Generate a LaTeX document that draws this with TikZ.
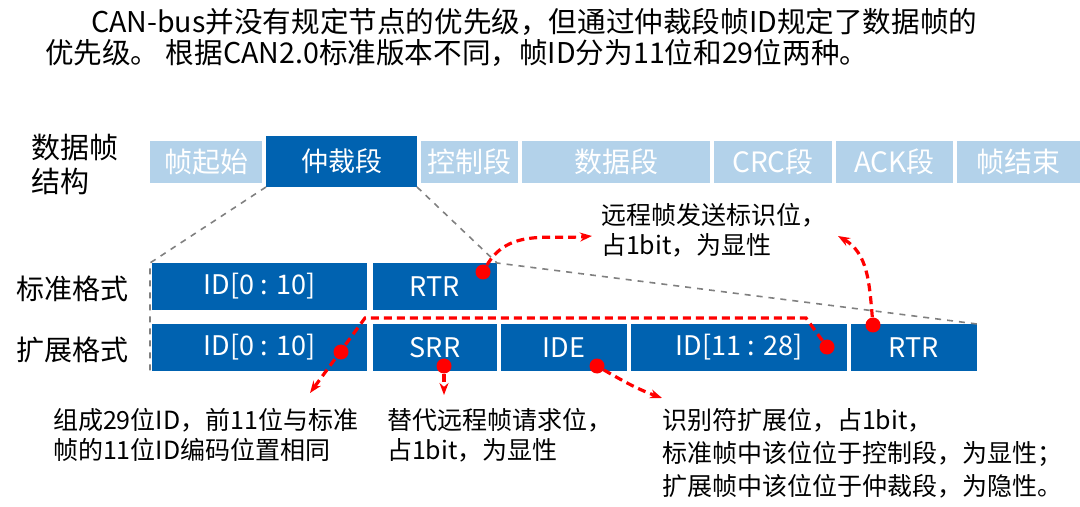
\documentclass[tikz,border=0pt]{standalone}
\usepackage{fontspec}
\setmainfont{Noto Sans CJK SC}
\usetikzlibrary{arrows.meta}
\definecolor{dblue}{HTML}{0062B0}
\definecolor{lblue}{HTML}{B3D2EA}
\begin{document}
\begin{tikzpicture}[x=0.5pt,y=-0.5pt,
  lb/.style={fill=lblue,draw=none,text=white,font=\fontsize{14}{16}\selectfont},
  db/.style={fill=dblue,draw=none,text=white,font=\fontsize{13.5}{16}\selectfont},
  lab/.style={font=\fontsize{14}{16}\selectfont,anchor=west},
  txt/.style={font=\fontsize{12.5}{15}\selectfont,anchor=west},
  gd/.style={gray,dashed,line width=0.8pt},
  rd/.style={red,line width=1.6pt,dash pattern=on 4pt off 2.5pt,-{Stealth[length=6pt]}},
  dot/.style={circle,fill=red,inner sep=0pt,minimum size=7.5pt}]
\useasboundingbox (0,0) rectangle (1080,507);
\node[txt,font=\fontsize{14.3}{16}\selectfont] (t1) at (84,22) {CAN-bus并没有规定节点的优先级，但通过仲裁段帧ID规定了数据帧的};
\node[txt,font=\fontsize{14.3}{16}\selectfont] (t2) at (38,53) {优先级。 根据CAN2.0标准版本不同，帧ID分为11位和29位两种。};
\node[lab,align=left,font=\fontsize{14.5}{17}\selectfont] (sj) at (24,164) {数据帧\\结构};
% top row
\path[lb] (150,141) rectangle node (f1) {帧起始} (262,183);
\path[db] (266,136) rectangle node (f2) {仲裁段} (417,187);
\path[lb] (421,141) rectangle node (f3) {控制段} (518,183);
\path[lb] (522,141) rectangle node (f4) {数据段} (710,183);
\path[lb] (714,141) rectangle node (f5) {CRC段} (832,183);
\path[lb] (836,141) rectangle node (f6) {ACK段} (953,183);
\path[lb] (957,141) rectangle node (f7) {帧结束} (1080,183);
% standard
\node[lab] (bz) at (9,289) {标准格式};
\path[db] (152,263) rectangle node (s1) {ID[0 : 10]} (367,310);
\path[db] (373,263) rectangle node (s2) {RTR} (497,310);
% extended
\node[lab] (kz) at (9,350) {扩展格式};
\path[db] (152,324) rectangle node (e1) {ID[0 : 10]} (367,371);
\path[db] (373,324) rectangle node (e2) {SRR} (497,371);
\path[db] (501,324) rectangle node (e3) {IDE} (627,371);
\path[db] (631,324) rectangle node (e4) {ID[11 : 28]} (847,371);
\path[db] (851,324) rectangle node (e5) {RTR} (977,371);
% grey dashed
\coordinate (g1) at (266,187); \coordinate (g2) at (417,187);
\coordinate (g3) at (150,263); \coordinate (g4) at (497,263);
\coordinate (g5) at (977,324); \coordinate (g6) at (150,371);
\draw[gd] (g1) -- (g3) -- (g6);
\draw[gd] (g2) -- (g4) -- (g5);
% dots
\node[dot] (d1) at (483,272) {};
\node[dot] (d2) at (341,352) {};
\node[dot] (d3) at (444,366) {};
\node[dot] (d4) at (597,366) {};
\node[dot] (d5) at (827,347) {};
\node[dot] (d6) at (873,325) {};
% notes
\node[txt,align=left] (n1) at (594,230) {远程帧发送标识位，\\占1bit，为显性};
\node[txt,align=left] (n2) at (46,435) {组成29位ID，前11位与标准\\帧的11位ID编码位置相同};
\node[txt,align=left] (n3) at (380,435) {替代远程帧请求位，\\占1bit，为显性};
\node[txt,align=left,font=\fontsize{12.5}{16.5}\selectfont] (n4) at (655,453) {识别符扩展位，占1bit，\\标准帧中该位位于控制段，为显性；\\扩展帧中该位位于仲裁段，为隐性。};
\coordinate (a1) at (592,236); \coordinate (a2) at (838,236);
\coordinate (a3) at (310,393); \coordinate (a4) at (444,395);
\coordinate (a5) at (662,398);
\draw[rd] (d1) to[out=60,in=185] (a1);
\draw[rd] (d6) to[out=95,in=-30] (a2);
\draw[rd] (d5) -- (806,318) -- (365,318) -- (a3);
\draw[rd] (d3) -- (a4);
\draw[rd] (d4) to[out=-30,in=160] (a5);
\end{tikzpicture}
\end{document}
